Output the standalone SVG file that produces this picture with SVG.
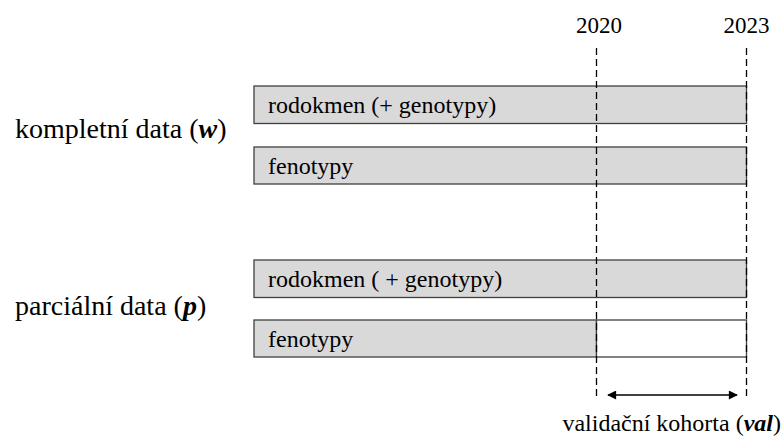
<svg xmlns="http://www.w3.org/2000/svg" width="783" height="439" viewBox="0 0 783 439">
<defs>
<style>
text{font-family:"Liberation Serif","Times New Roman",serif;fill:#000}
.lbl{font-size:28px}
.val{font-size:24px}
.bx{font-size:24px}
.yr{font-size:23px;text-anchor:middle}
.bar{fill:#d9d9d9;stroke:#404040;stroke-width:1.3}
.dash{stroke:#000;stroke-width:1.3;stroke-dasharray:7,4;fill:none}
</style>
<marker id="ah" viewBox="0 0 10 10" refX="9" refY="5" markerWidth="12" markerHeight="9" orient="auto-start-reverse" markerUnits="userSpaceOnUse"><path d="M0,0 L10,5 L0,10 z" fill="#000"/></marker>
</defs>
<g id="year-2020"><text class="yr" x="599" y="33">2020</text></g>
<g id="year-2023"><text class="yr" x="746.5" y="33">2023</text></g>
<g id="label-w"><text class="lbl" x="15" y="138">kompletní data (<tspan font-weight="bold" font-style="italic">w</tspan>)</text></g>
<g id="label-p"><text class="lbl" x="15" y="315">parciální data (<tspan font-weight="bold" font-style="italic">p</tspan>)</text></g>
<g id="w-rodokmen"><rect class="bar" x="254" y="86" width="492.5" height="37.5"/><text class="bx" x="268" y="113">rodokmen (+ genotypy)</text></g>
<g id="w-fenotypy"><rect class="bar" x="254" y="147" width="492.5" height="37"/><text class="bx" x="268" y="174">fenotypy</text></g>
<g id="p-rodokmen"><rect class="bar" x="254" y="260" width="492.5" height="37.5"/><text class="bx" x="268" y="287">rodokmen ( + genotypy)</text></g>
<g id="p-fenotypy"><rect class="bar" x="254" y="320" width="342.5" height="37"/><rect x="596.5" y="320" width="150" height="37" fill="#fff" stroke="#404040" stroke-width="1.3"/><text class="bx" x="268" y="347">fenotypy</text></g>
<g id="val-label"><text class="val" x="781" y="431" text-anchor="end">validační kohorta (<tspan font-weight="bold" font-style="italic">val</tspan>)</text></g>
<g id="connectors">
<line class="dash" x1="596.5" y1="48" x2="596.5" y2="400"/>
<line class="dash" x1="746.5" y1="48" x2="746.5" y2="400"/>
<line x1="608" y1="395" x2="737" y2="395" stroke="#000" stroke-width="1.6" marker-start="url(#ah)" marker-end="url(#ah)"/>
</g>
</svg>
